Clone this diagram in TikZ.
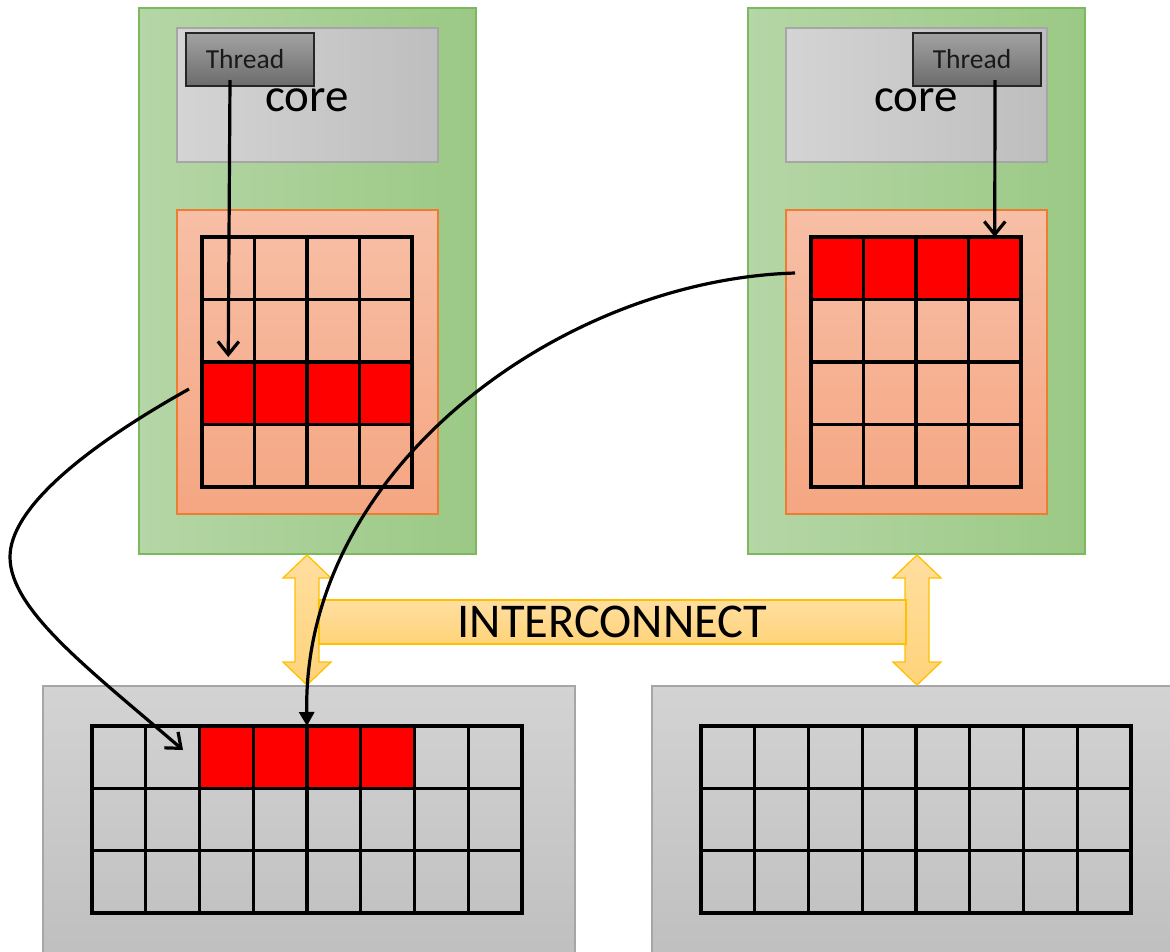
\documentclass[tikz,border=0pt]{standalone}
\usepackage{fontspec}
\setmainfont{Carlito}
\usetikzlibrary{arrows.meta,calc}
\definecolor{greenL}{HTML}{B5D6A6}
\definecolor{greenR}{HTML}{9BC985}
\definecolor{greenB}{HTML}{7DB85E}
\definecolor{coreL}{HTML}{D4D4D4}
\definecolor{coreR}{HTML}{BEBEBE}
\definecolor{grayB}{HTML}{A6A6A6}
\definecolor{thrT}{HTML}{A2A2A2}
\definecolor{thrB}{HTML}{6C6C6C}
\definecolor{cacheT}{HTML}{F7BFA6}
\definecolor{cacheB}{HTML}{F5A682}
\definecolor{cacheBorder}{HTML}{ED7D31}
\definecolor{memT}{HTML}{D3D3D3}
\definecolor{memB}{HTML}{BDBDBD}
\definecolor{icT}{HTML}{FFDE9F}
\definecolor{icB}{HTML}{FFD37A}
\definecolor{icBorder}{HTML}{FFC000}
\definecolor{cellred}{HTML}{FF0000}
\tikzset{
  box/.style={anchor=north west, inner sep=0pt, outer sep=0pt},
  chip/.style={box, draw=greenB, line width=1.3pt, left color=greenL, right color=greenR},
  corebox/.style={box, draw=grayB, line width=1.3pt, left color=coreL, right color=coreR},
  threadbox/.style={box, draw=black!85, line width=1.4pt, top color=thrT, bottom color=thrB,
     font=\fontsize{27.5}{30}\selectfont, text=black!90},
  cachebox/.style={box, draw=cacheBorder, line width=1.3pt, top color=cacheT, bottom color=cacheB},
  membox/.style={box, draw=grayB, line width=1.3pt, top color=memT, bottom color=memB},
  cell/.style={box, draw=black, line width=3.2pt},
  icstyle/.style={draw=icBorder, line width=1.3pt, top color=icT, bottom color=icB},
  corelabel/.style={font=\fontsize{47}{50}\selectfont, inner sep=0pt},
  conn/.style={draw=black, line width=3.2pt},
  openhead/.style={-{Straight Barb[length=13pt,width=21pt]}},
  fullhead/.style={-{Triangle[length=14pt,width=15pt]}}
}
\begin{document}
\begin{tikzpicture}[x=1pt,y=-1pt]
\path[use as bounding box] (0,0) rectangle (1170,951);
\clip (0,0) rectangle (1170,951);

% chips
\node[chip, minimum width=337pt, minimum height=546pt] (Lchip) at (139,8) {};
\node[chip, minimum width=337pt, minimum height=546pt] (Rchip) at (748,8) {};

% cores
\node[corebox, minimum width=261pt, minimum height=134pt] (Lcore) at (177,28) {};
\node[corebox, minimum width=261pt, minimum height=134pt] (Rcore) at (786,28) {};
\node[corelabel] (Lcoretxt) at (307,100) {core};
\node[corelabel] (Rcoretxt) at (916,100) {core};

% threads
\node[threadbox, minimum width=128pt, minimum height=53pt] (Lthread) at (186,33) {Thread\hspace*{10pt}};
\node[threadbox, minimum width=128pt, minimum height=53pt] (Rthread) at (913,33) {Thread\hspace*{10pt}};

% caches
\node[cachebox, minimum width=261pt, minimum height=304pt] (Lcache) at (177,210) {};
\node[cachebox, minimum width=261pt, minimum height=304pt] (Rcache) at (786,210) {};

\foreach \r/\f in {1/none,2/none,3/cellred,4/none}{
  \foreach \c in {1,...,4}{
    \node[cell, fill=\f, minimum width=52.5pt, minimum height=62.5pt]
      (LC-\r-\c) at ({202+(\c-1)*52.5},{237+(\r-1)*62.5}) {};
  }
}
\foreach \r/\f in {1/cellred,2/none,3/none,4/none}{
  \foreach \c in {1,...,4}{
    \node[cell, fill=\f, minimum width=52.5pt, minimum height=62.5pt]
      (RC-\r-\c) at ({811+(\c-1)*52.5},{237+(\r-1)*62.5}) {};
  }
}

% memories
\node[membox, minimum width=532pt, minimum height=300pt] (Lmem) at (43,686) {};
\node[membox, minimum width=540pt, minimum height=300pt] (Rmem) at (652,686) {};

\foreach \c/\f in {1/none,2/none,3/cellred,4/cellred,5/cellred,6/cellred,7/none,8/none}{
  \node[cell, fill=\f, minimum width=53.75pt, minimum height=62.33pt]
    (A-1-\c) at ({92+(\c-1)*53.75},726) {};
}
\foreach \r in {2,3}{
  \foreach \c in {1,...,8}{
    \node[cell, minimum width=53.75pt, minimum height=62.33pt]
      (A-\r-\c) at ({92+(\c-1)*53.75},{726+(\r-1)*62.33}) {};
  }
}
\foreach \r in {1,2,3}{
  \foreach \c in {1,...,8}{
    \node[cell, minimum width=53.75pt, minimum height=62.33pt]
      (B-\r-\c) at ({701+(\c-1)*53.75},{726+(\r-1)*62.33}) {};
  }
}

% interconnect
\path[icstyle] (307,555) -- (331,578) -- (319,578) -- (319,662) -- (331,662) -- (307,685)
  -- (283,662) -- (295,662) -- (295,578) -- (283,578) -- cycle;
\path[icstyle] (917,555) -- (941,578) -- (929,578) -- (929,662) -- (941,662) -- (917,685)
  -- (893,662) -- (905,662) -- (905,578) -- (893,578) -- cycle;
\node[icstyle, box, minimum width=587pt, minimum height=44pt,
  font=\fontsize{48.5}{52}\selectfont] (IC) at (319,600) {INTERCONNECT};

% connectors
\coordinate (lts) at (230,80);
\coordinate (rts) at (995,80);
\draw[conn, openhead] (lts) -- ([yshift=5pt]LC-3-1.north);
\draw[conn, openhead] (rts) -- (RC-1-4.north);

\coordinate (ls) at (189,389);
\coordinate (lm) at (10,557);
\coordinate (le) at (183,750);
\draw[conn, openhead] (ls) .. controls (80,450) and (10,510) .. (lm)
  .. controls (10,610) and (90,670) .. (le);

\coordinate (rs) at (795,273);
\draw[conn, fullhead] (rs) .. controls (560,280) and (302,470) .. (A-1-5.north west);

\end{tikzpicture}
\end{document}
